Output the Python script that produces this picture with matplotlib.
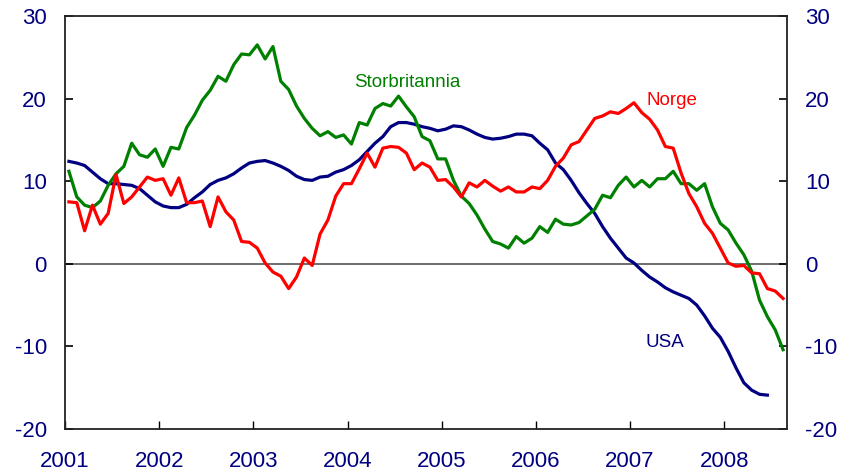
import matplotlib
matplotlib.use("Agg")
import matplotlib.pyplot as plt
import numpy as np

plt.rcParams['font.family'] = ['Liberation Sans', 'DejaVu Sans']

# monthly values, Jan 2001 onwards
storbritannia = [11.2, 8.1, 7.1, 6.8, 7.6, 9.5, 10.9, 11.8, 14.6, 13.2, 12.9, 13.9,
                 11.8, 14.1, 13.9, 16.5, 18.0, 19.8, 21.0, 22.7, 22.1, 24.1, 25.4, 25.3,
                 26.5, 24.8, 26.3, 22.1, 21.1, 19.1, 17.6, 16.4, 15.5, 16.0, 15.3, 15.6,
                 14.5, 17.1, 16.8, 18.8, 19.4, 19.1, 20.3, 19.0, 17.8, 15.4, 14.9, 12.7,
                 12.7, 10.1, 8.2, 7.3, 5.9, 4.2, 2.7, 2.4, 1.9, 3.3, 2.5, 3.1,
                 4.5, 3.8, 5.4, 4.8, 4.7, 5.0, 5.8, 6.6, 8.3, 8.0, 9.5, 10.5,
                 9.3, 10.1, 9.3, 10.3, 10.3, 11.2, 9.7, 9.7, 8.9, 9.7, 6.9, 4.9,
                 4.1, 2.5, 1.1, -0.9, -4.4, -6.4, -8.0, -10.4]
norge = [7.5, 7.4, 4.0, 7.1, 4.8, 6.1, 10.8, 7.3, 8.1, 9.3, 10.5, 10.1,
         10.3, 8.3, 10.4, 7.4, 7.4, 7.6, 4.5, 8.1, 6.3, 5.3, 2.7, 2.6,
         1.9, 0.1, -1.0, -1.5, -3.0, -1.6, 0.7, -0.2, 3.6, 5.3, 8.2, 9.7,
         9.7, 11.5, 13.4, 11.7, 14.0, 14.2, 14.1, 13.4, 11.4, 12.2, 11.7, 10.1,
         10.2, 9.3, 8.1, 9.8, 9.3, 10.1, 9.4, 8.8, 9.3, 8.7, 8.7, 9.3,
         9.1, 10.1, 11.8, 12.8, 14.4, 14.8, 16.2, 17.6, 17.9, 18.4, 18.2, 18.8,
         19.5, 18.3, 17.5, 16.2, 14.2, 14.0, 11.0, 8.5, 6.9, 4.9, 3.7, 1.9,
         0.1, -0.3, -0.2, -1.1, -1.2, -3.0, -3.3, -4.2]
usa = [12.4, 12.2, 11.9, 11.1, 10.3, 9.7, 9.7, 9.6, 9.5, 9.1, 8.3, 7.5,
       7.0, 6.8, 6.8, 7.2, 8.0, 8.7, 9.6, 10.1, 10.4, 10.9, 11.6, 12.2,
       12.4, 12.5, 12.2, 11.8, 11.3, 10.6, 10.2, 10.1, 10.5, 10.6, 11.1, 11.4,
       11.9, 12.6, 13.6, 14.6, 15.4, 16.6, 17.1, 17.1, 16.9, 16.6, 16.4, 16.1,
       16.3, 16.7, 16.6, 16.2, 15.7, 15.3, 15.1, 15.2, 15.4, 15.7, 15.7, 15.5,
       14.6, 13.8, 12.2, 11.4, 10.1, 8.6, 7.3, 6.1, 4.5, 3.1, 1.9, 0.7,
       0.1, -0.8, -1.6, -2.2, -2.9, -3.4, -3.8, -4.2, -5.0, -6.3, -7.8, -8.9,
       -10.6, -12.6, -14.4, -15.3, -15.8, -15.9]
years = [2001, 2002, 2003, 2004, 2005, 2006, 2007, 2008]
yticks = [-20, -10, 0, 10, 20, 30]


def months(vals):
    return 2001 + (np.arange(len(vals)) + 0.5) / 12


navy = '#000080'
fig = plt.figure(figsize=(8.43, 4.75), dpi=100)
ax = fig.add_axes([65 / 843, 1 - 429 / 475, (787 - 65) / 843, (429 - 16) / 475])

ax.axhline(0, color='#555555', lw=1.2, zorder=1)
ax.plot(months(storbritannia), storbritannia, color='#008000', lw=2.3, zorder=3)
ax.plot(months(norge), norge, color='#ff0000', lw=2.3, zorder=4)
ax.plot(months(usa), usa, color=navy, lw=2.3, zorder=2)

ax.set_xlim(2001, 2001 + 92 / 12)
ax.set_ylim(-20, 30)
ax.set_yticks(yticks)
ax.set_yticklabels([str(t) for t in yticks])
ax.set_xticks(years)
ax.set_xticklabels([str(y) for y in years])
ax.tick_params(axis='y', direction='in', length=6, width=1.2, left=True, right=True,
               labelleft=True, labelright=True, labelsize=16, labelcolor=navy, pad=13)
ax.tick_params(axis='x', direction='in', length=6, width=1.0, labelsize=16,
               labelcolor=navy, pad=16)
for s in ax.spines.values():
    s.set_linewidth(1.3)
    s.set_color('#222222')

ax.text(2004.63, 22.0, 'Storbritannia', color='#008000', fontsize=13.5, ha='center', va='center')
ax.text(2007.44, 19.8, 'Norge', color='#ff0000', fontsize=13.5, ha='center', va='center')
ax.text(2007.37, -9.5, 'USA', color=navy, fontsize=13.5, ha='center', va='center')

fig.savefig('out.png', dpi=100)
